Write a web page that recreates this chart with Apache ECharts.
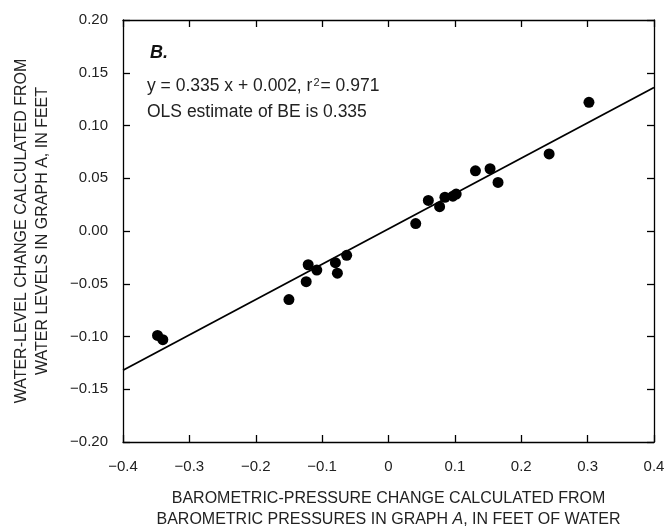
<!DOCTYPE html>
<html><head><meta charset="utf-8">
<script src="https://cdn.jsdelivr.net/npm/echarts@6/dist/echarts.min.js"></script>
<style>html,body{margin:0;padding:0;background:#fff}#c{width:668px;height:529px}</style>
</head><body><div id="c"></div>
<script>
// Data
const baroChange = [-0.348, -0.340, -0.150, -0.124, -0.121, -0.108, -0.080, -0.077, -0.063,
  0.041, 0.060, 0.077, 0.085, 0.097, 0.102, 0.131, 0.153, 0.165, 0.242, 0.302];
const waterChange = [-0.099, -0.103, -0.065, -0.048, -0.032, -0.037, -0.030, -0.040, -0.023,
  0.007, 0.029, 0.023, 0.032, 0.033, 0.035, 0.057, 0.059, 0.046, 0.073, 0.122];
const fitSlope = 0.335;
const fitIntercept = 0.002;
const fitRangeX = [-0.4, 0.4];
const xTicks = [-0.4, -0.3, -0.2, -0.1, 0, 0.1, 0.2, 0.3, 0.4];
const yTicks = [-0.20, -0.15, -0.10, -0.05, 0.00, 0.05, 0.10, 0.15, 0.20];

const FONT = '"Liberation Sans Narrow", "Liberation Sans", Arial, sans-serif';
const points = baroChange.map((x, i) => [x, waterChange[i]]);
const fitLine = fitRangeX.map(x => [x, fitSlope * x + fitIntercept]);
const minus = s => s.replace('-', '\u2212');

const chart = echarts.init(document.getElementById('c'));
const axisLine = { show: true, onZero: false, lineStyle: { color: '#000', width: 1.3 } };
const axisTick = { show: true, inside: true, length: 7, lineStyle: { color: '#000', width: 1.3 } };
chart.setOption({
  animation: false,
  grid: { left: 123, right: 14, top: 20, bottom: 87, containLabel: false, outerBoundsMode: 'none' },
  xAxis: [{
    type: 'value', min: xTicks[0], max: xTicks[xTicks.length - 1], interval: 0.1,
    axisLine, axisTick, splitLine: { show: false },
    axisLabel: { color: '#222', fontFamily: FONT, fontSize: 15, margin: 17,
      formatter: v => minus(v === 0 ? '0' : v.toFixed(1)) },
    name: 'BAROMETRIC-PRESSURE CHANGE CALCULATED FROM\nBAROMETRIC PRESSURES IN GRAPH {i|A}, IN FEET OF WATER',
    nameLocation: 'middle', nameGap: 46,
    nameTextStyle: { color: '#222', fontFamily: FONT, fontSize: 16, lineHeight: 21,
      rich: { i: { fontStyle: 'italic', fontFamily: FONT, fontSize: 16, color: '#222' } } }
  }, {
    type: 'value', position: 'top', min: xTicks[0], max: xTicks[xTicks.length - 1], interval: 0.1,
    axisLine, axisTick, axisLabel: { show: false }, splitLine: { show: false }
  }],
  yAxis: [{
    type: 'value', min: yTicks[0], max: yTicks[yTicks.length - 1], interval: 0.05,
    axisLine, axisTick, splitLine: { show: false },
    axisLabel: { color: '#222', fontFamily: FONT, fontSize: 15, margin: 15,
      formatter: v => minus(v.toFixed(2)) },
    name: 'WATER-LEVEL CHANGE CALCULATED FROM\nWATER LEVELS IN GRAPH A, IN FEET',
    nameLocation: 'middle', nameGap: 70, nameRotate: 90,
    nameTextStyle: { color: '#222', fontFamily: FONT, fontSize: 16, lineHeight: 21 }
  }, {
    type: 'value', position: 'right', min: yTicks[0], max: yTicks[yTicks.length - 1], interval: 0.05,
    axisLine, axisTick, axisLabel: { show: false }, splitLine: { show: false }
  }],
  series: [{
    type: 'line', data: fitLine, showSymbol: false, symbol: 'none',
    lineStyle: { color: '#000', width: 1.8 }, z: 2
  }, {
    type: 'scatter', data: points, symbolSize: 11,
    itemStyle: { color: '#000', opacity: 1 }, z: 3
  }],
  graphic: [{
    type: 'text', left: 150, top: 44,
    style: { text: 'B.', fontFamily: FONT, fontSize: 18, fontWeight: 'bold', fontStyle: 'italic', fill: '#111' }
  }, {
    type: 'text', left: 147, top: 77,
    style: { text: 'y = 0.335 x + 0.002, r{s|2}= 0.971', fontFamily: FONT, fontSize: 17.5, fill: '#222',
      rich: { s: { fontFamily: FONT, fontSize: 11, verticalAlign: 'top', padding: [0, 1, 8, 1], fill: '#222' } } }
  }, {
    type: 'text', left: 147, top: 103,
    style: { text: 'OLS estimate of BE is 0.335', fontFamily: FONT, fontSize: 17.5, fill: '#222' }
  }]
});
</script></body></html>
